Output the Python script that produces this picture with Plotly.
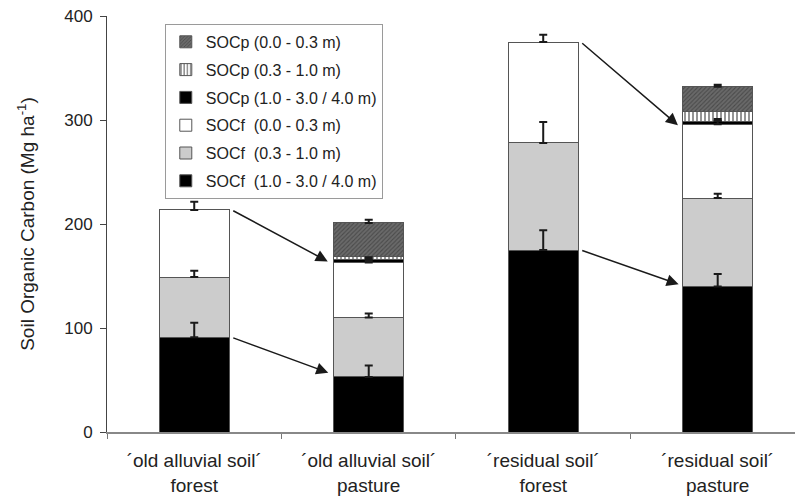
import plotly.graph_objects as go

categories = ["´old alluvial soil´<br>forest", "´old alluvial soil´<br>pasture",
              "´residual soil´<br>forest", "´residual soil´<br>pasture"]

socf_deep = [91, 53, 175, 140]
socf_mid = [58, 57, 103, 85]
socf_top = [64.5, 53, 97, 71]
socp_deep = [None, 3, None, 3]
socp_mid = [None, 3, None, 9]
socp_top = [None, 32, None, 24]

err_socf_deep = [14, 11, 19, 12]
err_socf_mid = [6, 4, 20, 4]
err_socf_top = [8, 2, 7, 3]
err_socp_deep = [None, 2, None, 2]
err_socp_mid = [None, None, None, None]
err_socp_top = [None, 3, None, 2]

names = ["SOCf\u00a0 (1.0 - 3.0 / 4.0 m)", "SOCf\u00a0 (0.3 - 1.0 m)", "SOCf\u00a0 (0.0 - 0.3 m)",
         "SOCp (1.0 - 3.0 / 4.0 m)", "SOCp (0.3 - 1.0 m)", "SOCp (0.0 - 0.3 m)"]

# arrows: (tail_x, tail_y, head_x, head_y) in category-index / data units
arrows = [(0.215, 213.5, 0.765, 164), (0.215, 91, 0.768, 57),
          (2.215, 375, 2.772, 295), (2.215, 175, 2.776, 142)]

series = [socf_deep, socf_mid, socf_top, socp_deep, socp_mid, socp_top]
errs = [err_socf_deep, err_socf_mid, err_socf_top, err_socp_deep, err_socp_mid, err_socp_top]
colors = ["#000000", "#cccccc", "#ffffff", "#000000", "#ffffff", "#6e6e6e"]
patterns = [None, None, None, None,
            dict(shape="|", fgcolor="#111111", bgcolor="#ffffff", size=4, solidity=0.45),
            dict(shape="/", fgcolor="#2a2a2a", bgcolor="#6a6a6a", size=3, solidity=0.35)]

fig = go.Figure()
n_series = len(series)
for i, (vals, c, p, n) in enumerate(zip(series, colors, patterns, names)):
    marker = dict(color=c, line=dict(color="#555555", width=1))
    if p is not None:
        marker["pattern"] = p
    fig.add_trace(go.Bar(
        x=categories, y=vals, name=n, width=0.4, marker=marker,
        legendgroup=str(i), legendrank=n_series - i,
    ))

# error bars drawn on top of all stacked segments
cum = [0.0] * len(categories)
for vals, e in zip(series, errs):
    xs, ys, es = [], [], []
    for j, v in enumerate(vals):
        if v is None:
            continue
        cum[j] += v
        if e[j] is not None:
            xs.append(categories[j])
            ys.append(cum[j])
            es.append(e[j])
    if xs:
        fig.add_trace(go.Scatter(
            x=xs, y=ys, mode="markers", marker=dict(size=1, opacity=0),
            showlegend=False, hoverinfo="skip",
            error_y=dict(type="data", array=es, arrayminus=[0] * len(es), symmetric=False,
                         color="#1a1a1a", thickness=2, width=4, visible=True),
        ))

for tx, ty, hx, hy in arrows:
    fig.add_annotation(x=hx, y=hy, ax=tx, ay=ty, xref="x", yref="y", axref="x", ayref="y",
                       text="", showarrow=True, arrowhead=2, arrowsize=1.6, arrowwidth=1.5,
                       arrowcolor="#1a1a1a", standoff=0, startstandoff=0)

fig.update_layout(
    width=795, height=501,
    margin=dict(l=107, r=0, t=16, b=69),
    paper_bgcolor="white", plot_bgcolor="white",
    barmode="stack",
    font=dict(family="Liberation Sans, Arial, sans-serif", color="#222222"),
    showlegend=True,
    legend=dict(x=0.084, y=0.981, xanchor="left", yanchor="top",
                traceorder="grouped", tracegroupgap=4,
                bordercolor="#9a9a9a", borderwidth=1, bgcolor="white",
                font=dict(size=16, color="#222222")),
)
fig.update_xaxes(range=[-0.5, 3.443], showline=True, linecolor="#888888", linewidth=2,
                 ticks="outside", tickson="boundaries", ticklen=5, tickcolor="#777777",
                 tickfont=dict(size=19), ticklabelstandoff=10, showgrid=False)
fig.update_yaxes(range=[0, 400], tickvals=[0, 100, 200, 300, 400], showline=True,
                 linecolor="#444444", linewidth=1, ticks="outside", ticklen=6,
                 tickcolor="#444444", tickfont=dict(size=17), ticklabelstandoff=4,
                 showgrid=False, zeroline=False,
                 title=dict(text="Soil Organic Carbon (Mg ha<sup>-1</sup>)", font=dict(size=19),
                            standoff=24))

fig.write_html("out.html", config={"displayModeBar": False},
               post_script="document.body.style.margin='0';")
